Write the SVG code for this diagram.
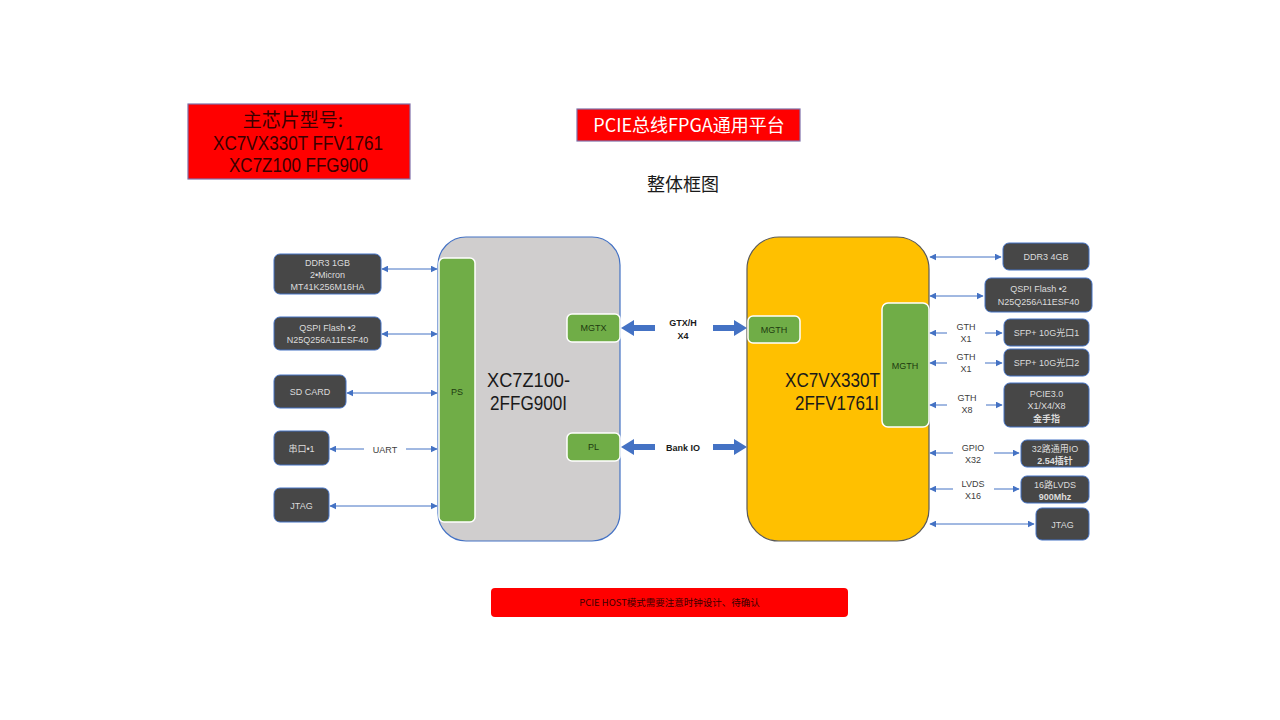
<svg xmlns="http://www.w3.org/2000/svg" width="1280" height="720" viewBox="0 0 1280 720">
<defs>
<marker id="ah" viewBox="0 0 10 10" refX="9" refY="5" markerWidth="7" markerHeight="7" markerUnits="userSpaceOnUse" orient="auto-start-reverse">
<path d="M0,0 L10,5 L0,10 z" fill="#4472C4"/>
</marker>
<style>
.t{font-family:"Liberation Sans","Noto Sans CJK SC",sans-serif;}
.c{font-family:"Noto Sans CJK SC","Liberation Sans",sans-serif;}
.box{fill:#474747;stroke:#4472C4;stroke-width:1;}
.bt{font-family:"Liberation Sans","Noto Sans CJK SC",sans-serif;font-size:9px;fill:#DCDCDC;text-anchor:middle;}
.green{fill:#70AD47;stroke:#FFFFFF;stroke-width:1.5;}
.gt{font-family:"Liberation Sans",sans-serif;font-size:9px;fill:#1E3A10;text-anchor:middle;}
.ln{stroke:#4472C4;stroke-width:1;fill:none;}
.lbl{font-family:"Liberation Sans",sans-serif;font-size:9px;fill:#404040;text-anchor:middle;}
.big{fill:#4472C4;}
.chip{font-family:"Liberation Sans",sans-serif;font-size:20px;fill:#1a1a1a;}
.bold{font-family:"Liberation Sans",sans-serif;font-size:9px;font-weight:bold;fill:#1a1a1a;text-anchor:middle;}
</style>
</defs>
<rect width="1280" height="720" fill="#FFFFFF"/>

<g id="chip-title">
<rect x="188" y="104" width="222" height="75" fill="#FF0000" stroke="#7F6FA8" stroke-width="1.2"/>
<text class="c" x="293" y="127" font-size="19" fill="#3A0000" text-anchor="middle">主芯片型号:</text>
<text class="t" x="213" y="150" font-size="20" fill="#3A0000" textLength="170" lengthAdjust="spacingAndGlyphs">XC7VX330T FFV1761</text>
<text class="t" x="229" y="172" font-size="20" fill="#3A0000" textLength="139" lengthAdjust="spacingAndGlyphs">XC7Z100 FFG900</text>
</g>

<g id="title">
<rect x="577" y="109" width="223" height="32" fill="#FF0000" stroke="#7F6FA8" stroke-width="1.2"/>
<text class="c" x="689" y="132" font-size="18" fill="#FFFFFF" text-anchor="middle">PCIE总线FPGA通用平台</text>
</g>

<g id="subtitle">
<text class="c" x="683" y="191" font-size="18" fill="#1a1a1a" text-anchor="middle">整体框图</text>
</g>

<g id="zynq">
<rect x="438" y="237" width="182" height="304" rx="28" fill="#D0CECE" stroke="#4472C4" stroke-width="1.2"/>
<text class="chip" x="487" y="387" textLength="83" lengthAdjust="spacingAndGlyphs">XC7Z100-</text>
<text class="chip" x="490" y="410" textLength="77" lengthAdjust="spacingAndGlyphs">2FFG900I</text>
</g>
<g id="ps">
<rect class="green" x="439" y="258" width="36" height="264" rx="5"/>
<text class="gt" x="457" y="395">PS</text>
</g>
<g id="mgtx">
<rect class="green" x="567" y="314" width="53" height="28" rx="5"/>
<text class="gt" x="593.5" y="331">MGTX</text>
</g>
<g id="pl">
<rect class="green" x="567" y="433" width="53" height="28" rx="5"/>
<text class="gt" x="593.5" y="450">PL</text>
</g>

<g id="virtex">
<rect x="747" y="237" width="182" height="304" rx="32" fill="#FFC000" stroke="#5A5A5A" stroke-width="1.2"/>
<text class="chip" x="785" y="387" textLength="95" lengthAdjust="spacingAndGlyphs">XC7VX330T</text>
<text class="chip" x="795" y="410" textLength="84" lengthAdjust="spacingAndGlyphs">2FFV1761I</text>
</g>
<g id="mgth-left">
<rect class="green" x="748" y="316" width="52" height="27" rx="5"/>
<text class="gt" x="774" y="333">MGTH</text>
</g>
<g id="mgth-right">
<rect class="green" x="882" y="303" width="47" height="124" rx="6"/>
<text class="gt" x="905" y="369">MGTH</text>
</g>

<g id="l-ddr3">
<rect class="box" x="274" y="254" width="107" height="40" rx="6"/>
<text class="bt" x="327.5" y="266">DDR3  1GB</text>
<text class="bt" x="327.5" y="278">2•Micron</text>
<text class="bt" x="327.5" y="290">MT41K256M16HA</text>
</g>
<g id="l-qspi">
<rect class="box" x="274" y="317" width="107" height="33" rx="6"/>
<text class="bt" x="327.5" y="331">QSPI Flash •2</text>
<text class="bt" x="327.5" y="343">N25Q256A11ESF40</text>
</g>
<g id="l-sd">
<rect class="box" x="274" y="375" width="72" height="33" rx="6"/>
<text class="bt" x="310" y="395">SD CARD</text>
</g>
<g id="l-uart">
<rect class="box" x="274" y="431" width="55" height="34" rx="6"/>
<text class="bt" x="301.5" y="452">串口•1</text>
</g>
<g id="l-jtag">
<rect class="box" x="274" y="488" width="55" height="34" rx="6"/>
<text class="bt" x="301.5" y="509">JTAG</text>
</g>

<g id="r-ddr3">
<rect class="box" x="1003" y="243" width="86" height="27" rx="6"/>
<text class="bt" x="1046" y="260">DDR3  4GB</text>
</g>
<g id="r-qspi">
<rect class="box" x="985" y="278" width="107" height="34" rx="6"/>
<text class="bt" x="1038.5" y="292">QSPI Flash •2</text>
<text class="bt" x="1038.5" y="305">N25Q256A11ESF40</text>
</g>
<g id="r-sfp1">
<rect class="box" x="1004" y="319" width="85" height="27" rx="6"/>
<text class="bt" x="1046.5" y="336">SFP+ 10G光口1</text>
</g>
<g id="r-sfp2">
<rect class="box" x="1004" y="349" width="85" height="27" rx="6"/>
<text class="bt" x="1046.5" y="366">SFP+ 10G光口2</text>
</g>
<g id="r-pcie">
<rect class="box" x="1004" y="383" width="85" height="44" rx="6"/>
<text class="bt" x="1046.5" y="397">PCIE3.0</text>
<text class="bt" x="1046.5" y="409">X1/X4/X8</text>
<text class="bt" x="1046.5" y="422" font-weight="bold">金手指</text>
</g>
<g id="r-gpio">
<rect class="box" x="1021" y="440" width="68" height="27" rx="6"/>
<text class="bt" x="1055" y="452">32路通用IO</text>
<text class="bt" x="1055" y="464" font-weight="bold">2.54插针</text>
</g>
<g id="r-lvds">
<rect class="box" x="1021" y="476" width="68" height="27" rx="6"/>
<text class="bt" x="1055" y="488">16路LVDS</text>
<text class="bt" x="1055" y="500" font-weight="bold">900Mhz</text>
</g>
<g id="r-jtag">
<rect class="box" x="1036" y="508" width="53" height="32" rx="6"/>
<text class="bt" x="1062.5" y="528">JTAG</text>
</g>

<g id="note">
<rect x="491" y="588" width="357" height="29" rx="4" fill="#FF0000"/>
<text class="c" x="669.5" y="606" font-size="9.5" fill="#3A0000" text-anchor="middle">PCIE HOST模式需要注意时钟设计、待确认</text>
</g>

<g id="connectors">
<line class="ln" x1="382" y1="269" x2="437" y2="269" marker-start="url(#ah)" marker-end="url(#ah)"/>
<line class="ln" x1="382" y1="334" x2="437" y2="334" marker-start="url(#ah)" marker-end="url(#ah)"/>
<line class="ln" x1="347" y1="393" x2="437" y2="393" marker-start="url(#ah)" marker-end="url(#ah)"/>
<line class="ln" x1="330" y1="449" x2="364" y2="449" marker-start="url(#ah)"/>
<line class="ln" x1="406" y1="449" x2="437" y2="449" marker-end="url(#ah)"/>
<text class="lbl" x="385" y="453">UART</text>
<line class="ln" x1="330" y1="506" x2="437" y2="506" marker-start="url(#ah)" marker-end="url(#ah)"/>

<path class="big" d="M621,328 L634,320 L634,325 L655,325 L655,331 L634,331 L634,336 Z"/>
<path class="big" d="M747,328 L734,320 L734,325 L713,325 L713,331 L734,331 L734,336 Z"/>
<text class="bold" x="683" y="326">GTX/H</text>
<text class="bold" x="683" y="339">X4</text>
<path class="big" d="M621,447 L634,439 L634,444 L655,444 L655,450 L634,450 L634,455 Z"/>
<path class="big" d="M747,447 L734,439 L734,444 L713,444 L713,450 L734,450 L734,455 Z"/>
<text class="bold" x="683" y="451">Bank IO</text>

<line class="ln" x1="930" y1="257" x2="1001" y2="257" marker-start="url(#ah)" marker-end="url(#ah)"/>
<line class="ln" x1="930" y1="296" x2="983" y2="296" marker-start="url(#ah)" marker-end="url(#ah)"/>

<line class="ln" x1="930" y1="333" x2="947" y2="333" marker-start="url(#ah)"/>
<line class="ln" x1="985" y1="333" x2="1002" y2="333" marker-end="url(#ah)"/>
<text class="lbl" x="966" y="330">GTH</text>
<text class="lbl" x="966" y="342">X1</text>

<line class="ln" x1="930" y1="363" x2="947" y2="363" marker-start="url(#ah)"/>
<line class="ln" x1="985" y1="363" x2="1002" y2="363" marker-end="url(#ah)"/>
<text class="lbl" x="966" y="360">GTH</text>
<text class="lbl" x="966" y="372">X1</text>

<line class="ln" x1="930" y1="405" x2="947" y2="405" marker-start="url(#ah)"/>
<line class="ln" x1="986" y1="405" x2="1002" y2="405" marker-end="url(#ah)"/>
<text class="lbl" x="967" y="401">GTH</text>
<text class="lbl" x="967" y="413">X8</text>

<line class="ln" x1="930" y1="453" x2="953" y2="453" marker-start="url(#ah)"/>
<line class="ln" x1="994" y1="453" x2="1019" y2="453" marker-end="url(#ah)"/>
<text class="lbl" x="973" y="451">GPIO</text>
<text class="lbl" x="973" y="463">X32</text>

<line class="ln" x1="930" y1="489" x2="953" y2="489" marker-start="url(#ah)"/>
<line class="ln" x1="994" y1="489" x2="1019" y2="489" marker-end="url(#ah)"/>
<text class="lbl" x="973" y="487">LVDS</text>
<text class="lbl" x="973" y="499">X16</text>

<line class="ln" x1="930" y1="524" x2="1034" y2="524" marker-start="url(#ah)" marker-end="url(#ah)"/>
</g>
</svg>
